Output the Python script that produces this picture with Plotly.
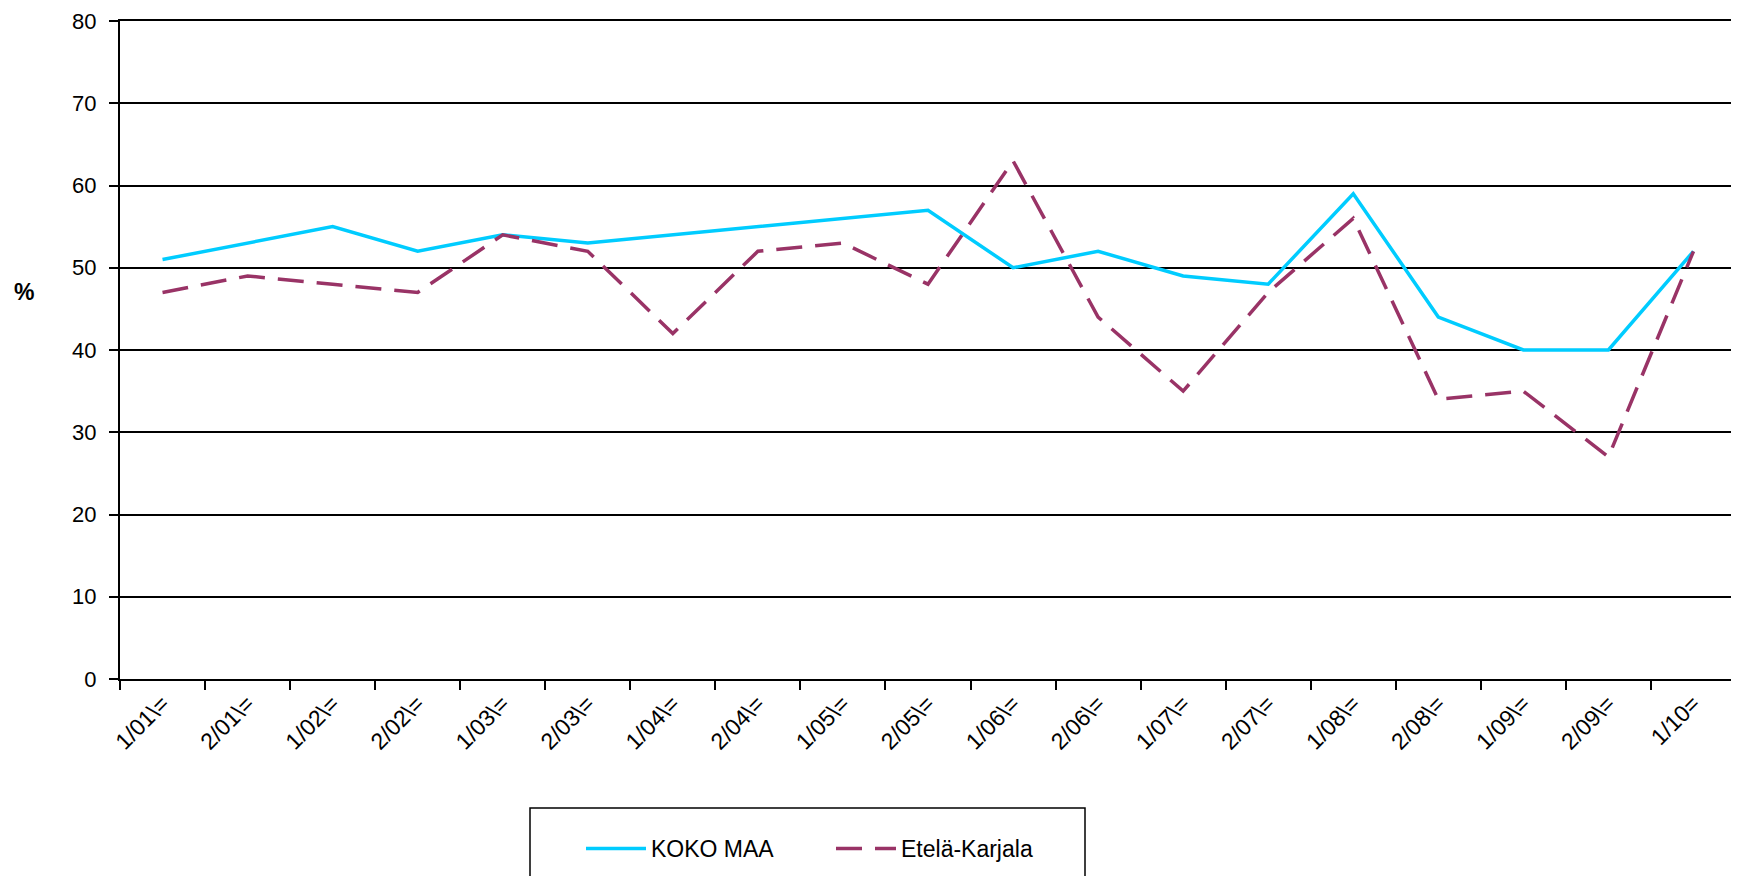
import plotly.graph_objects as go

categories = ["1/01\\=", "2/01\\=", "1/02\\=", "2/02\\=", "1/03\\=", "2/03\\=", "1/04\\=",
              "2/04\\=", "1/05\\=", "2/05\\=", "1/06\\=", "2/06\\=", "1/07\\=", "2/07\\=",
              "1/08\\=", "2/08\\=", "1/09\\=", "2/09\\=", "1/10="]
koko_maa = [51, 53, 55, 52, 54, 53, 54, 55, 56, 57, 50, 52, 49, 48, 59, 44, 40, 40, 52]
etela_karjala = [47, 49, 48, 47, 54, 52, 42, 52, 53, 48, 63, 44, 35, 47, 56, 34, 35, 27, 52]
y_ticks = [0, 10, 20, 30, 40, 50, 60, 70, 80]

# page has 8px body margin; figure coordinates are page coordinates minus 8
W, H = 1731, 868
L, R, T, B = 112, 3, 13, 197
pw, ph = W - L - R, H - T - B

def px_x(x):
    return (x - L) / pw

def px_y(y):
    return (H - B - y) / ph

font = "Liberation Sans, Arial, sans-serif"

fig = go.Figure()
fig.add_trace(go.Scatter(x=categories, y=koko_maa, mode="lines", name="KOKO MAA",
                         line=dict(color="#00CCFF", width=3.5)))
fig.add_trace(go.Scatter(x=categories, y=etela_karjala, mode="lines", name="Etelä-Karjala",
                         line=dict(color="#993366", width=3.5, dash="26px,13px")))

fig.update_layout(
    width=W, height=H,
    margin=dict(l=L, r=R, t=T, b=B, pad=0, autoexpand=False),
    paper_bgcolor="white", plot_bgcolor="white",
    font=dict(family=font, color="black", size=22),
    showlegend=True,
    legend=dict(orientation="h", x=px_x(573), y=px_y(819), xanchor="left", yanchor="top",
                font=dict(size=23, family=font), entrywidth=175, entrywidthmode="pixels",
                bgcolor="rgba(0,0,0,0)", borderwidth=0, itemwidth=60),
)
fig.update_xaxes(
    type="category", range=[-0.5, len(categories) - 0.5], automargin=False,
    tickson="boundaries", ticks="outside", ticklen=9, tickwidth=1.5, tickcolor="black",
    tickangle=-45, tickfont=dict(size=23, family=font),
    showline=True, linecolor="black", linewidth=2, mirror=True,
    showgrid=False, zeroline=False,
)
fig.update_yaxes(
    range=[0, 80], tickvals=y_ticks, ticks="outside", ticklen=9, tickwidth=1.5,
    tickcolor="black", tickfont=dict(size=22, family=font), ticklabelstandoff=8,
    ticklabeloverflow="allow", automargin=False,
    showline=True, linecolor="black", linewidth=2, mirror=True,
    showgrid=True, gridcolor="black", gridwidth=1.5, zeroline=False,
)
fig.add_annotation(text="<b>%</b>", x=px_x(16), y=px_y(284), xref="paper", yref="paper",
                   showarrow=False, font=dict(size=23, family=font), xanchor="center", yanchor="middle")
fig.add_shape(type="rect", xref="paper", yref="paper",
              x0=px_x(522), x1=px_x(1077), y0=px_y(800), y1=px_y(890),
              line=dict(color="black", width=1.5), fillcolor="rgba(0,0,0,0)")

fig.write_html("out.html")
